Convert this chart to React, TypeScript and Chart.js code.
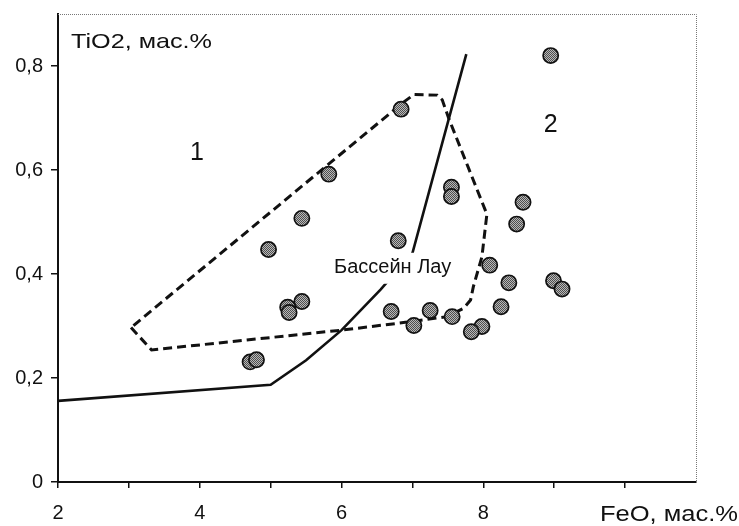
import React, { useEffect, useRef } from "react";
import { Chart, registerables } from "chart.js";

Chart.register(...registerables);

// Axis ticks and labels
const xTickValues = [2, 3, 4, 5, 6, 7, 8, 9, 10];
const xTickLabels = ["2", "", "4", "", "6", "", "8", "", ""];
const yTickValues = [0, 0.2, 0.4, 0.6, 0.8];
const yTickLabels = ["0", "0,2", "0,4", "0,6", "0,8"];

// Samples (FeO, TiO2 wt.%)
const sampleFeO = [8.95, 6.84, 5.82, 5.44, 4.97, 6.8, 7.55, 7.55, 8.56, 8.47, 8.09, 8.36, 8.99, 9.11, 8.25, 7.98, 7.83, 6.7, 7.25, 7.02, 7.56, 5.44, 5.24, 5.26, 4.71, 4.8];
const sampleTiO2 = [0.82, 0.717, 0.592, 0.507, 0.447, 0.464, 0.567, 0.549, 0.538, 0.496, 0.417, 0.383, 0.387, 0.371, 0.337, 0.299, 0.289, 0.328, 0.33, 0.301, 0.318, 0.347, 0.336, 0.326, 0.231, 0.235];

// Boundary line between fields 1 and 2
const boundaryFeO = [2, 5, 5.5, 6, 6.55, 7.0, 7.76];
const boundaryTiO2 = [0.156, 0.187, 0.234, 0.292, 0.37, 0.44, 0.823];

// Lau basin field outline (dashed)
const lauFeO = [3.03, 3.32, 6.0, 6.9, 7.49, 7.72, 7.82, 7.86, 7.98, 8.05, 7.79, 7.51, 7.42, 7.35, 7.02, 6.87, 3.03];
const lauTiO2 = [0.297, 0.254, 0.292, 0.307, 0.318, 0.334, 0.35, 0.376, 0.433, 0.515, 0.604, 0.7, 0.735, 0.744, 0.745, 0.73, 0.297];

// Text annotations
const fieldLabels = ["1", "2"];
const fieldLabelFeO = [3.96, 8.95];
const fieldLabelTiO2 = [0.633, 0.687];
const basinLabel = "Бассейн Лау";
const basinLabelFeO = 6.72;
const basinLabelTiO2 = 0.412;
const yTitle = "TiO2, мас.%";
const xTitle = "FeO, мас.%";

const FONT = "'Liberation Sans', Arial, sans-serif";

const zip = (xs: number[], ys: number[]) => xs.map((x, i) => ({ x, y: ys[i] }));

function makePattern(ctx: CanvasRenderingContext2D): CanvasPattern | string {
  const c = document.createElement("canvas");
  c.width = 2;
  c.height = 2;
  const p = c.getContext("2d");
  if (!p) return "#999";
  p.fillStyle = "#b8b8b8";
  p.fillRect(0, 0, 2, 2);
  p.fillStyle = "#4e4e4e";
  p.fillRect(0, 0, 1, 1);
  p.fillRect(1, 1, 1, 1);
  return ctx.createPattern(c, "repeat") || "#999";
}

function stretchedText(ctx: CanvasRenderingContext2D, text: string, x: number, y: number, sx: number, align: "left" | "right") {
  ctx.save();
  ctx.translate(x, y);
  ctx.scale(sx, 1);
  ctx.textAlign = align;
  ctx.textBaseline = "alphabetic";
  ctx.fillText(text, 0, 0);
  ctx.restore();
}

const decorPlugin = {
  id: "decor",
  beforeDatasetsDraw(chart: any) {
    const { ctx, chartArea } = chart;
    ctx.save();
    ctx.strokeStyle = "#777";
    ctx.lineWidth = 1;
    ctx.setLineDash([1, 1]);
    ctx.beginPath();
    ctx.moveTo(chartArea.left, chartArea.top + 0.5);
    ctx.lineTo(chartArea.right + 0.5, chartArea.top + 0.5);
    ctx.lineTo(chartArea.right + 0.5, chartArea.bottom);
    ctx.stroke();
    ctx.restore();
  },
  afterDatasetsDraw(chart: any) {
    const { ctx, chartArea, scales } = chart;
    const xs = scales.x;
    const ys = scales.y;
    ctx.save();
    ctx.fillStyle = "#111";
    // field numbers
    ctx.font = `25px ${FONT}`;
    ctx.textAlign = "center";
    ctx.textBaseline = "middle";
    fieldLabels.forEach((t, i) => {
      ctx.fillText(t, xs.getPixelForValue(fieldLabelFeO[i]), ys.getPixelForValue(fieldLabelTiO2[i]));
    });
    // basin label with white background
    const bx = xs.getPixelForValue(basinLabelFeO);
    const by = ys.getPixelForValue(basinLabelTiO2);
    ctx.font = `20px ${FONT}`;
    const w = ctx.measureText(basinLabel).width;
    ctx.fillStyle = "#fff";
    ctx.fillRect(bx - w / 2 - 2, by - 15, w + 4, 31);
    ctx.fillStyle = "#111";
    ctx.fillText(basinLabel, bx, by);
    // axis titles
    ctx.font = `21px ${FONT}`;
    stretchedText(ctx, yTitle, chartArea.left + 13, chartArea.top + 34, 1.2, "left");
    ctx.font = `22px ${FONT}`;
    stretchedText(ctx, xTitle, chart.width - 1, chartArea.bottom + 39, 1.16, "right");
    ctx.restore();
  },
};

export default function App() {
  const ref = useRef<HTMLCanvasElement | null>(null);
  useEffect(() => {
    const canvas = ref.current;
    if (!canvas) return;
    const ctx = canvas.getContext("2d") as CanvasRenderingContext2D;
    const pattern = makePattern(ctx);
    const chart = new Chart(canvas, {
      type: "scatter",
      data: {
        datasets: [
          {
            label: "samples",
            data: zip(sampleFeO, sampleTiO2),
            backgroundColor: pattern as any,
            borderColor: "#111",
            borderWidth: 1.7,
            pointRadius: 7.6,
            showLine: false,
          },
          {
            label: "boundary",
            data: zip(boundaryFeO, boundaryTiO2),
            showLine: true,
            borderColor: "#111",
            borderWidth: 2.6,
            pointRadius: 0,
            tension: 0,
            fill: false,
          },
          {
            label: "Lau",
            data: zip(lauFeO, lauTiO2),
            showLine: true,
            borderColor: "#111",
            borderWidth: 3,
            borderDash: [9, 5],
            pointRadius: 0,
            tension: 0,
            fill: false,
          },
        ],
      },
      options: {
        animation: false,
        responsive: true,
        maintainAspectRatio: false,
        devicePixelRatio: 1,
        layout: { padding: { left: 0, right: 43, top: 14, bottom: 0 } },
        plugins: { legend: { display: false }, tooltip: { enabled: false }, title: { display: false } },
        scales: {
          x: {
            type: "linear",
            min: 2,
            max: 11,
            afterBuildTicks: (s: any) => {
              s.ticks = xTickValues.map((v) => ({ value: v }));
            },
            afterFit: (s: any) => {
              s.height = 44;
              s.paddingLeft = 0;
              s.paddingRight = 0;
            },
            ticks: {
              autoSkip: false,
              maxRotation: 0,
              padding: 13,
              color: "#111",
              font: { family: FONT, size: 20 },
              callback: (v: any) => {
                const i = xTickValues.indexOf(Number(v));
                return i >= 0 ? xTickLabels[i] : "";
              },
            },
            grid: { drawOnChartArea: false, drawTicks: true, tickLength: 6, color: "#111", lineWidth: 1.5 },
            border: { display: true, color: "#111", width: 2 },
          },
          y: {
            type: "linear",
            min: 0,
            max: 0.9,
            afterBuildTicks: (s: any) => {
              s.ticks = yTickValues.map((v) => ({ value: v }));
            },
            afterFit: (s: any) => {
              s.width = 58;
              s.paddingTop = 0;
              s.paddingBottom = 0;
            },
            ticks: {
              autoSkip: false,
              padding: 8,
              color: "#111",
              font: { family: FONT, size: 20 },
              callback: (v: any) => {
                const i = yTickValues.findIndex((t) => Math.abs(t - Number(v)) < 1e-9);
                return i >= 0 ? yTickLabels[i] : "";
              },
            },
            grid: { drawOnChartArea: false, drawTicks: true, tickLength: 7, color: "#111", lineWidth: 1.5 },
            border: { display: true, color: "#111", width: 2 },
          },
        },
      },
      plugins: [decorPlugin],
    } as any);
    return () => chart.destroy();
  }, []);
  return (
    <div style={{ position: "absolute", left: 0, top: 0, width: 739, height: 526, background: "#fff" }}>
      <canvas ref={ref} />
    </div>
  );
}
